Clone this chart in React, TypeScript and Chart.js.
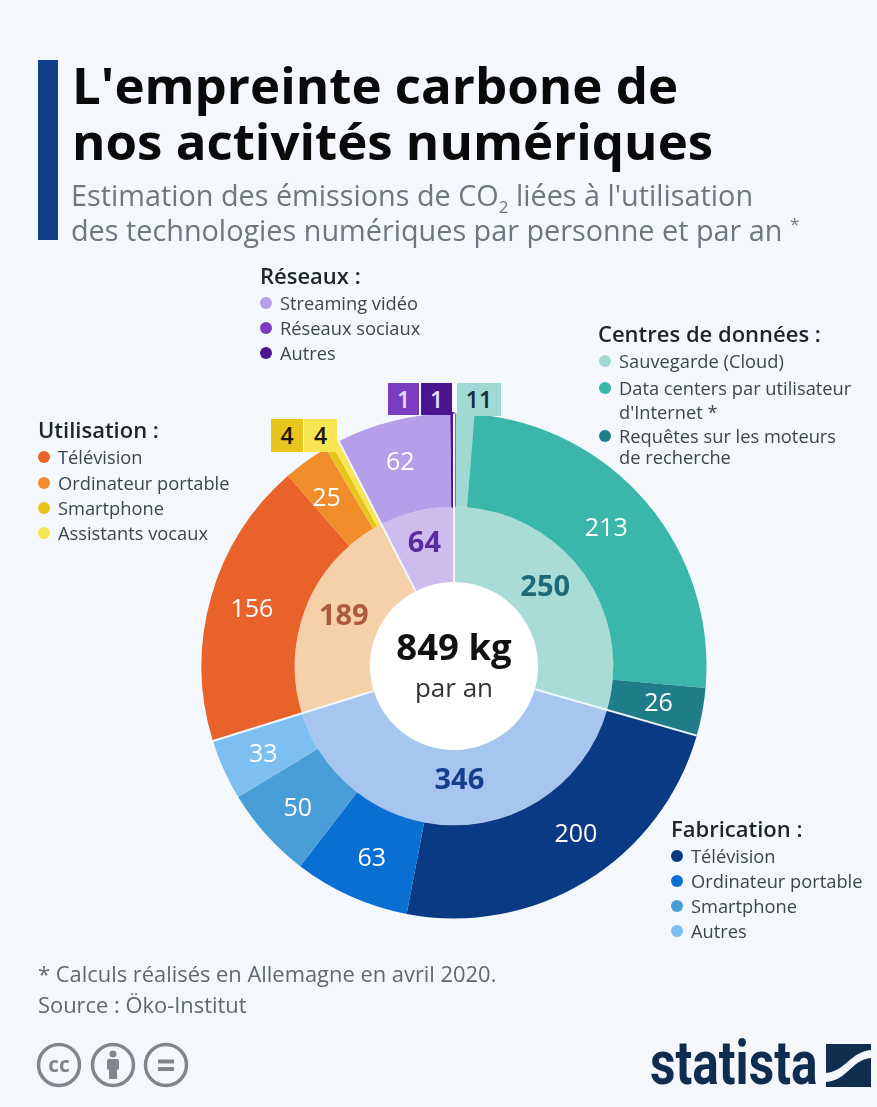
import React, { useEffect, useRef } from "react";
import { Chart, registerables } from "chart.js";

Chart.register(...registerables);

const innerCategories = ["Centres de données", "Fabrication", "Utilisation", "Réseaux"];
const innerValues = [250, 346, 189, 64];
const innerColors = ["#a9dcd6", "#a7c6ef", "#f6d0a8", "#cfbcee"];
const innerLabelColors = ["#1d6a78", "#143f8c", "#ad5a3c", "#5b2a9e"];

const outerCategories = [
  "Sauvegarde (Cloud)", "Data centers par utilisateur d'Internet", "Requêtes sur les moteurs de recherche",
  "Télévision (fabrication)", "Ordinateur portable (fabrication)", "Smartphone (fabrication)", "Autres (fabrication)",
  "Télévision", "Ordinateur portable", "Smartphone", "Assistants vocaux",
  "Streaming vidéo", "Réseaux sociaux", "Autres (réseaux)",
];
const outerValues = [11, 213, 26, 200, 63, 50, 33, 156, 25, 4, 4, 62, 1, 1];
const outerColors = [
  "#a0d9d3", "#3ab6ab", "#1f7d8a", "#0b3a84", "#0a6fd2", "#4a9ed8", "#7dbff1",
  "#e8622a", "#f08d2a", "#e8c41f", "#f8e552", "#b69ee9", "#7a3dc2", "#4b1590",
];

// Last outer slice of each group, where a white separator is drawn.
const groupEnds = [2, 6, 10, 13];

// Small label offsets, in pixels, from each arc's centre.
const outerNudgeX = [0, -5, 2, 14, 2, -3, -3, -4, -7, 0, 0, -4, 0, 0];
const outerNudgeY = [0, -4, 0, -7, 5, 5, 4, 0, 0, 0, 0, -3, 0, 0];
const innerNudgeX = [-6, 4, 2, -1];
const innerNudgeY = [-5, -7, -2, -4];

const FONT = '"Open Sans", sans-serif';
const BG = "#f4f8fc";
const MUTED = "#7f868c";

const valueLabels = {
  id: "valueLabels",
  beforeDatasetsDraw(chart: any) {
    const arc = chart.getDatasetMeta(1).data[0];
    const ctx = chart.ctx;
    ctx.save();
    ctx.fillStyle = "#ffffff";
    ctx.beginPath();
    ctx.arc(arc.x, arc.y, arc.innerRadius, 0, Math.PI * 2);
    ctx.fill();
    ctx.restore();
  },
  afterDatasetsDraw(chart: any) {
    const ctx = chart.ctx;
    const outer = chart.getDatasetMeta(0).data;
    const inner = chart.getDatasetMeta(1).data;
    ctx.save();
    ctx.strokeStyle = "#f1f6fb";
    ctx.lineWidth = 2;
    groupEnds.forEach((i) => {
      const el = outer[i];
      const a = el.endAngle;
      ctx.beginPath();
      ctx.moveTo(el.x + Math.cos(a) * inner[0].innerRadius, el.y + Math.sin(a) * inner[0].innerRadius);
      ctx.lineTo(el.x + Math.cos(a) * el.outerRadius, el.y + Math.sin(a) * el.outerRadius);
      ctx.stroke();
    });
    ctx.textAlign = "center";
    ctx.textBaseline = "middle";
    outer.forEach((el: any, i: number) => {
      if (outerValues[i] < 20) return;
      const p = el.getCenterPoint();
      ctx.font = `500 25px ${FONT}`;
      ctx.fillStyle = "#ffffff";
      ctx.fillText(String(outerValues[i]), p.x + outerNudgeX[i], p.y + outerNudgeY[i]);
    });
    inner.forEach((el: any, i: number) => {
      const p = el.getCenterPoint();
      ctx.font = `700 29px ${FONT}`;
      ctx.fillStyle = innerLabelColors[i];
      ctx.fillText(String(innerValues[i]), p.x + innerNudgeX[i], p.y + innerNudgeY[i]);
    });
    const a = inner[0];
    ctx.fillStyle = "#111111";
    ctx.font = `700 36.5px ${FONT}`;
    ctx.fillText("849 kg", a.x, a.y - 16);
    ctx.fillStyle = "#333333";
    ctx.font = `400 26px ${FONT}`;
    ctx.fillText("par an", a.x, a.y + 24);
    ctx.restore();
  },
};

function T({ x, y, size, weight = 400, color = "#3c4650", children }: any) {
  return (
    <div
      style={{
        position: "absolute", left: x, top: y - size, lineHeight: `${size * 2}px`, fontSize: size,
        fontWeight: weight, color, whiteSpace: "nowrap", fontFamily: FONT,
      }}
    >
      {children}
    </div>
  );
}

function Item({ x, y, color, label }: any) {
  return (
    <>
      <div style={{ position: "absolute", left: x, top: y - 6, width: 12, height: 12, borderRadius: 6, background: color }} />
      <T x={x + 20} y={y} size={18.3}>{label}</T>
    </>
  );
}

function Box({ x, y, w, h, color, text, textColor }: any) {
  return (
    <div
      style={{
        position: "absolute", left: x, top: y, width: w, height: h, background: color, color: textColor,
        fontFamily: FONT, fontWeight: 600, fontSize: 23, lineHeight: `${h}px`, textAlign: "center",
      }}
    >
      {text}
    </div>
  );
}

export default function App() {
  const ref = useRef<HTMLCanvasElement>(null);
  useEffect(() => {
    const chart = new Chart(ref.current as HTMLCanvasElement, {
      type: "doughnut",
      data: {
        labels: outerCategories,
        datasets: [
          {
            label: "Détail",
            data: outerValues,
            backgroundColor: outerColors,
            borderColor: outerColors,
            borderWidth: outerValues.map((_, i) => (i === 13 ? 3 : 0)),
            weight: 93,
          } as any,
          { label: "Total", data: innerValues, backgroundColor: innerColors, borderWidth: 0, weight: 75 } as any,
        ],
      },
      options: {
        responsive: false,
        animation: false,
        cutout: "33.3%",
        layout: { padding: { left: 200, right: 169, top: 412, bottom: 187 } },
        plugins: { legend: { display: false }, tooltip: { enabled: false } },
      } as any,
      plugins: [valueLabels],
    });
    return () => chart.destroy();
  }, []);

  return (
    <div style={{ position: "absolute", left: 0, top: 0, width: 877, height: 1107, overflow: "hidden", background: BG }}>
      <canvas ref={ref} width={877} height={1107} style={{ position: "absolute", left: 0, top: 0 }} />

      <div style={{ position: "absolute", left: 38, top: 60, width: 20, height: 180, background: "#0f3f8c" }} />
      <T x={72} y={84} size={51} weight={700} color="#0a0a0a">L'empreinte carbone de</T>
      <T x={72} y={140} size={51} weight={700} color="#0a0a0a">nos activités numériques</T>
      <T x={71} y={195} size={28.8} color="#6d7681">
        Estimation des émissions de CO<sub style={{ fontSize: 17, lineHeight: 0 }}>2</sub> liées à l'utilisation
      </T>
      <T x={71} y={230} size={28.8} color="#6d7681">
        des technologies numériques par personne et par an <sup style={{ fontSize: 17, lineHeight: 0 }}>*</sup>
      </T>

      <T x={260} y={275} size={22} weight={600} color="#1d252c">Réseaux :</T>
      <Item x={260} y={303} color="#b69ee9" label="Streaming vidéo" />
      <Item x={260} y={328} color="#7a3dc2" label="Réseaux sociaux" />
      <Item x={260} y={353} color="#4b1590" label="Autres" />

      <T x={598} y={333} size={22} weight={600} color="#1d252c">Centres de données :</T>
      <Item x={599} y={361} color="#a0d9d3" label="Sauvegarde (Cloud)" />
      <Item x={599} y={388} color="#3ab6ab" label="Data centers par utilisateur" />
      <T x={619} y={412} size={18.3}>d'Internet *</T>
      <Item x={599} y={436} color="#1f7d8a" label="Requêtes sur les moteurs" />
      <T x={619} y={457} size={18.3}>de recherche</T>

      <T x={38} y={429} size={22} weight={600} color="#1d252c">Utilisation :</T>
      <Item x={38} y={457} color="#e8622a" label="Télévision" />
      <Item x={38} y={483} color="#f08d2a" label="Ordinateur portable" />
      <Item x={38} y={508} color="#e8c41f" label="Smartphone" />
      <Item x={38} y={533} color="#f8e552" label="Assistants vocaux" />

      <T x={671} y={828} size={22} weight={600} color="#1d252c">Fabrication :</T>
      <Item x={671} y={856} color="#0b3a84" label="Télévision" />
      <Item x={671} y={881} color="#0a6fd2" label="Ordinateur portable" />
      <Item x={671} y={906} color="#4a9ed8" label="Smartphone" />
      <Item x={671} y={931} color="#7dbff1" label="Autres" />

      <Box x={388} y={383} w={31} h={32} color={outerColors[12]} text={outerValues[12]} textColor="#e9dcf8" />
      <Box x={421} y={383} w={31} h={32} color={outerColors[13]} text={outerValues[13]} textColor="#e9dcf8" />
      <Box x={457} y={383} w={44} h={33} color={outerColors[0]} text={outerValues[0]} textColor="#0f2b33" />
      <Box x={271} y={419} w={32} h={33} color={outerColors[9]} text={outerValues[9]} textColor="#1a1408" />
      <Box x={304} y={419} w={33} h={33} color={outerColors[10]} text={outerValues[10]} textColor="#1a1408" />

      <T x={38} y={974} size={21.9} color="#5f6872">* Calculs réalisés en Allemagne en avril 2020.</T>
      <T x={38} y={1005} size={21.9} color="#5f6872">Source : Öko-Institut</T>

      <svg width={877} height={1107} style={{ position: "absolute", left: 0, top: 0 }}>
        <g fill="none" stroke={MUTED} strokeWidth={3.5}>
          <circle cx={59} cy={1065} r={20.5} />
          <circle cx={113} cy={1065} r={20.5} />
          <circle cx={166} cy={1065} r={20.5} />
        </g>
        <text x={59} y={1072} textAnchor="middle" fontFamily={FONT} fontWeight={700} fontSize={21} fill={MUTED}>cc</text>
        <g fill={MUTED}>
          <circle cx={113} cy={1054} r={3.5} />
          <rect x={107} y={1059} width={12} height={11} rx={2} />
          <rect x={109} y={1068} width={8} height={11} />
          <rect x={158} y={1059.5} width={16} height={4} />
          <rect x={158} y={1067} width={16} height={4} />
        </g>
        <path d="M826 1044 L871 1044 L871 1050 C850 1052 846 1071 826 1073 Z" fill="#0f2d4e" />
        <path d="M871 1058 C851 1060 848 1080 826 1082 L826 1087 L871 1087 Z" fill="#0f2d4e" />
      </svg>
      <div
        style={{
          position: "absolute", left: 650, top: 1028, fontFamily: '"Roboto", sans-serif', fontWeight: 700, fontSize: 62,
          lineHeight: "70px", color: "#0f2d4e", transform: "scaleX(0.8)", transformOrigin: "left top", whiteSpace: "nowrap",
        }}
      >
        statista
      </div>
    </div>
  );
}
